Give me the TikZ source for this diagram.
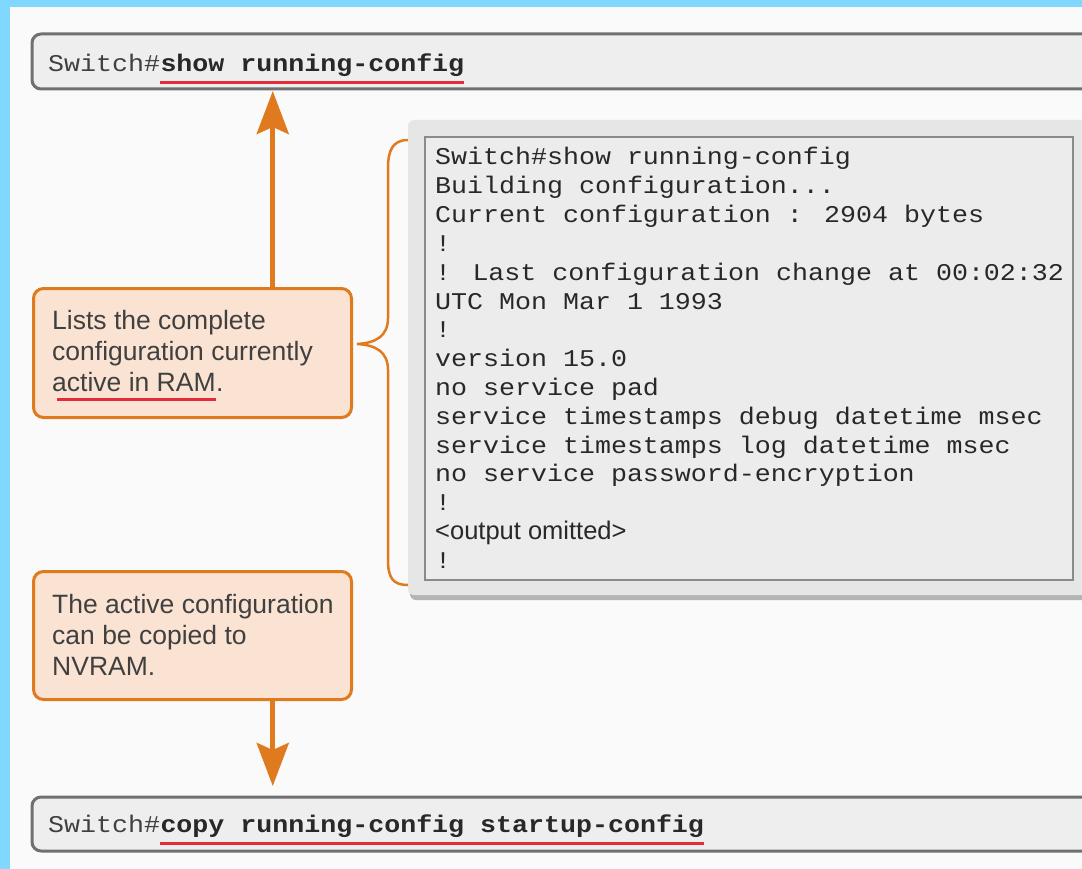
\documentclass[tikz,border=0pt]{standalone}
\usepackage{fontspec}
\setmainfont{Liberation Sans}
\newfontfamily\cmono[FakeStretch=1.11]{Liberation Mono}
\newfontfamily\sansf{Liberation Sans}
\usetikzlibrary{arrows.meta,calc}
\definecolor{bluebar}{RGB}{128,216,255}
\definecolor{bgc}{RGB}{250,250,250}
\definecolor{cmdfill}{RGB}{238,238,238}
\definecolor{cmdborder}{RGB}{112,112,112}
\definecolor{orng}{RGB}{224,122,31}
\definecolor{peach}{RGB}{250,227,210}
\definecolor{redline}{RGB}{226,44,58}
\definecolor{txt}{RGB}{40,40,40}
\definecolor{stxt}{RGB}{64,64,64}
\definecolor{panelout}{RGB}{230,230,230}
\definecolor{panelshadow}{RGB}{180,180,180}
\definecolor{panelin}{RGB}{236,236,236}
\definecolor{panelborder}{RGB}{138,138,138}
\tikzset{
  cmdbox/.style={draw=cmdborder, line width=3pt, fill=cmdfill, rounded corners=9pt},
  callout/.style={draw=orng, line width=3pt, fill=peach, rounded corners=10pt},
  ul/.style={draw=redline, line width=3pt},
  arr/.style={draw=orng, line width=5pt, -{Stealth[length=43pt,width=32pt,inset=7pt]}},
  bracepath/.style={draw=orng, line width=2.5pt},
  mono/.style={font=\cmono\fontsize{24}{28}\selectfont, text=txt, inner sep=0pt, anchor=base west},
  monob/.style={font=\cmono\bfseries\fontsize{24}{28}\selectfont, text=txt, inner sep=0pt, anchor=base west},
  sanstxt/.style={font=\sansf\fontsize{26.5}{31}\selectfont, text=stxt, inner sep=0pt, anchor=base west},
}
\begin{document}
\begin{tikzpicture}[x=1pt,y=-1pt]
\useasboundingbox (0,0) rectangle (1082,869);
\clip (0,0) rectangle (1082,869);
% background
\fill[bluebar] (0,0) rectangle (1082,869);
\fill[bgc] (10,7) rectangle (1090,880);

% command boxes
\path[cmdbox] (32,34) rectangle (1092,89);
\path[cmdbox] (32,797) rectangle (1092,851);
\node[mono, text=stxt] (c1a) at (48,72) {Switch\#};
\node[monob] (c1b) at (c1a.base east) {show running-config};
\node[mono, text=stxt] (c2a) at (48,832) {Switch\#};
\node[monob] (c2b) at (c2a.base east) {copy running-config startup-config};
\draw[ul] ($(c1b.base west)+(0,11)$) -- ($(c1b.base east)+(0,11)$);
\draw[ul] ($(c2b.base west)+(0,11)$) -- ($(c2b.base east)+(0,11)$);

% output panel
\fill[panelshadow, rounded corners=6pt] (410,124) rectangle (1092,600);
\fill[panelout, rounded corners=6pt] (408,120) rectangle (1090,595);
\path[fill=panelin, draw=panelborder, line width=2pt] (425,137) rectangle (1073,580);
\foreach \i/\t in {1/{Switch\#show running-config},
                   2/{Building configuration...},
                   3/{Current configuration : 2904 bytes},
                   4/{!},
                   5/{! Last configuration change at 00:02:32},
                   6/{UTC Mon Mar 1 1993},
                   7/{!},
                   8/{version 15.0},
                   9/{no service pad},
                   10/{service timestamps debug datetime msec},
                   11/{service timestamps log datetime msec},
                   12/{no service password-encryption},
                   13/{!},
                   15/{!}}{
  \node[mono] (o\i) at (435,{165+28.8*(\i-1)}) {\t};
}
\node[sanstxt, font=\sansf\fontsize{25.5}{28}\selectfont, text=txt] (o14) at (435,{165+28.8*13}) {<output omitted>};

% brace
\draw[bracepath] (408,140) .. controls (393,140) and (388,150) .. (388,168)
  -- (388,318) .. controls (388,336) and (376,343) .. (357,344)
  .. controls (376,345) and (388,352) .. (388,370)
  -- (388,560) .. controls (388,578) and (393,585) .. (408,585);

% callouts
\node[callout, anchor=north west, minimum width=318pt, minimum height=129pt, inner sep=0pt] (box1) at (32,287) {};
\node[sanstxt] (t1a) at (52,329) {Lists the complete};
\node[sanstxt] (t1b) at (52,360) {configuration currently};
\node[sanstxt] (t1c) at (52,391) {active in RAM};
\node[sanstxt] (t1d) at (t1c.base east) {.};
\draw[ul] ($(t1c.base west)+(5,8)$) -- ($(t1c.base east)+(0,8)$);

\node[callout, anchor=north west, minimum width=318pt, minimum height=128pt, inner sep=0pt] (box2) at (32,570) {};
\node[sanstxt] (t2a) at (52,613) {The active configuration};
\node[sanstxt] (t2b) at (52,644) {can be copied to};
\node[sanstxt] (t2c) at (52,675) {NVRAM.};

% arrows
\coordinate (a1) at ($(box1.north west)!0.75!(box1.north east)$);
\coordinate (a2) at ($(box2.south west)!0.75!(box2.south east)$);
\draw[arr] (a1) -- (a1 |- 0,91);
\draw[arr] (a2) -- (a2 |- 0,786);
\end{tikzpicture}
\end{document}
